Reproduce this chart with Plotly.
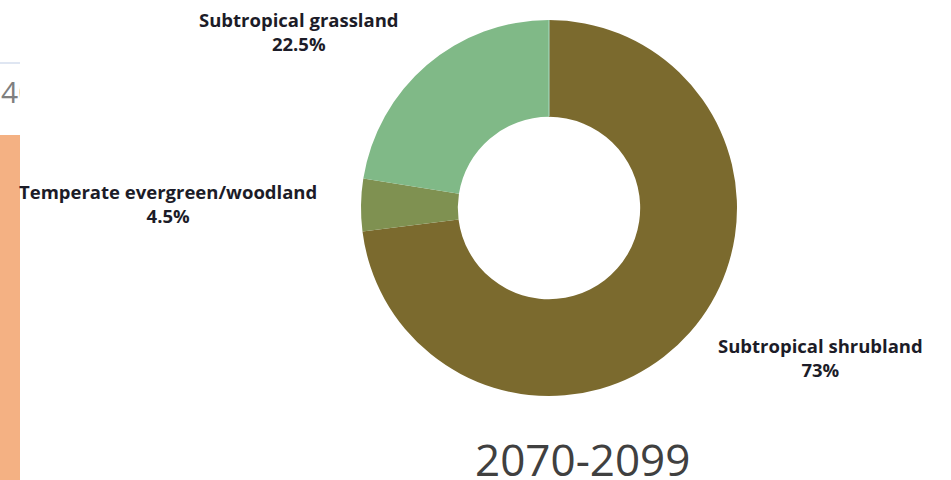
import plotly.graph_objects as go

W, H = 951, 480

labels = ["Subtropical shrubland", "Temperate evergreen/woodland", "Subtropical grassland"]
values = [73, 4.5, 22.5]
value_text = ["73%", "4.5%", "22.5%"]
colors = ["#7B6A2E", "#7F9151", "#80B987"]
title_text = "2070-2099"
side_text = "40"

fig = go.Figure()

fig.add_trace(go.Pie(
    labels=labels,
    values=values,
    hole=0.485,
    sort=False,
    direction="clockwise",
    rotation=0,
    marker=dict(colors=colors, line=dict(width=0)),
    textinfo="none",
    hoverinfo="label+percent",
    showlegend=False,
    domain=dict(x=[361 / W, 737 / W], y=[(H - 396) / H, (H - 20) / H]),
))

# clipped fragment of a neighbouring panel on the left edge
fig.add_trace(go.Scatter(
    x=[0.05], y=[H - 95], mode="text", text=[side_text],
    textposition="middle right",
    textfont=dict(family="Open Sans", size=30, color="#7f7f7f"),
    cliponaxis=True, showlegend=False, hoverinfo="skip",
    xaxis="x", yaxis="y",
))
fig.update_layout(
    xaxis=dict(domain=[0, 20 / W], range=[0, 1], visible=False, fixedrange=True),
    yaxis=dict(domain=[0, 1], range=[0, H], visible=False, fixedrange=True),
)

# label positions (paper px): centre x, centre y of two-line block
label_pos = [(820, 357), (168, 203), (299, 32)]
for lab, vt, (px, py) in zip(labels, value_text, label_pos):
    fig.add_annotation(
        x=px / W, y=(H - py) / H, xref="paper", yref="paper",
        text=f"<b>{lab}<br>{vt}</b>", showarrow=False,
        xanchor="center", yanchor="middle", align="center",
        font=dict(family="Open Sans", size=18.5, color="#1c1c28"),
    )

fig.add_annotation(
    x=582 / W, y=(H - 459) / H, xref="paper", yref="paper",
    text=title_text, showarrow=False, xanchor="center", yanchor="middle",
    font=dict(family="Open Sans", size=44, color="#404040"),
)

fig.add_shape(type="rect", xref="paper", yref="paper",
              x0=0, x1=20 / W, y0=0, y1=(H - 135) / H,
              fillcolor="#F4B183", line=dict(width=0), layer="below")
fig.add_shape(type="line", xref="paper", yref="paper",
              x0=0, x1=20 / W, y0=(H - 63) / H, y1=(H - 63) / H,
              line=dict(color="#dfe6f2", width=2))
fig.add_shape(type="line", xref="paper", yref="paper",
              x0=549 / W, x1=549 / W, y0=(H - 20) / H, y1=(H - 116) / H,
              line=dict(color="#a8dcc8", width=1))

fig.update_layout(
    width=W, height=H,
    margin=dict(l=0, r=0, t=0, b=0),
    paper_bgcolor="white", plot_bgcolor="rgba(0,0,0,0)",
)

fig.write_html(
    "out.html",
    config={"displayModeBar": False},
    post_script="document.body.style.margin='0';document.body.style.overflow='hidden';",
)
